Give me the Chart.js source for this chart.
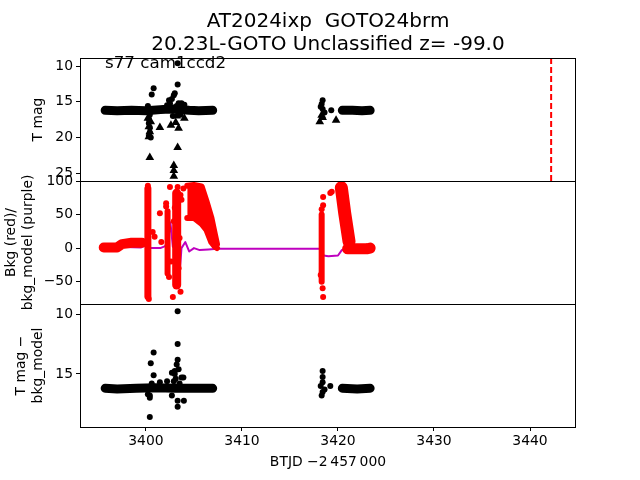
<!DOCTYPE html>
<html lang="en">
<head>
    <meta charset="UTF-8">
    <title>AT2024ixp light curve</title>
    <script src="https://cdn.jsdelivr.net/npm/chart.js"></script>
    <style>
        body { margin: 0; background: #ffffff; }
        #wrap { position: relative; width: 640px; height: 480px; }
        canvas { position: absolute; left: 0; top: 0; }
    </style>
</head>
<body>
<div id="wrap">
    <canvas id="magChart" width="640" height="480"></canvas>
    <canvas id="bkgChart" width="640" height="480"></canvas>
    <canvas id="diffChart" width="640" height="480"></canvas>
</div>
<script>
    // ---- axis ranges and ticks ----
    const xMin = 3393.13, xMax = 3444.79;
    const xTicks = [3400, 3410, 3420, 3430, 3440];
    const p1YMin = 8.88, p1YMax = 26.08;
    const p1Ticks = [10, 15, 20, 25];
    const p2YMin = -83.3, p2YMax = 100;
    const p2Ticks = [-50, 0, 50, 100];
    const p3YMin = 9.14, p3YMax = 19.44;
    const p3Ticks = [10, 15];

    // ---- panel 1: T mag ----
    const p1BandAX = [3395.75, 3397.0, 3398.5, 3400.0, 3401.5, 3402.5, 3403.5, 3404.5, 3405.5, 3406.95];
    const p1BandAY = [16.2, 16.25, 16.2, 16.25, 16.1, 16.0, 16.1, 16.2, 16.25, 16.2];
    const p1BandBX = [3420.45, 3421.5, 3422.5, 3423.35];
    const p1BandBY = [16.2, 16.2, 16.25, 16.2];
    const p1DotX = [3400.8, 3400.6, 3403.3, 3403.3, 3402.4, 3402.9, 3402.7, 3403.4, 3403.7, 3402.2, 3403.0,
                    3404.0, 3403.6, 3402.8, 3400.2, 3400.4, 3400.3, 3400.3, 3400.4, 3400.4, 3400.3, 3400.5,
                    3402.5, 3402.8, 3403.2, 3418.4, 3418.3, 3418.2, 3418.4, 3419.3, 3418.6];
    const p1DotY = [13.1, 14.0, 12.6, 9.6, 14.8, 14.1, 14.6, 15.2, 15.2, 15.5, 13.8,
                    15.4, 16.8, 17.0, 15.6, 16.8, 17.4, 18.0, 18.6, 19.3, 19.8, 20.0,
                    15.2, 15.8, 15.6, 14.8, 15.3, 15.7, 16.0, 16.2, 16.5];
    const p1TriX = [3400.2, 3400.5, 3400.3, 3400.4, 3400.3, 3401.45, 3400.4, 3403.3, 3402.9, 3402.9, 3402.9,
                    3403.1, 3402.6, 3403.4, 3404.0, 3403.2, 3418.1, 3418.4, 3419.8, 3418.3];
    const p1TriY = [17.3, 17.8, 18.5, 19.2, 19.9, 18.6, 22.8, 21.4, 23.9, 24.6, 25.4,
                    17.9, 18.3, 18.7, 17.3, 17.0, 17.8, 17.2, 17.6, 16.9];
    const peakX = 3442.2;

    // ---- panel 2: background (red) and model (purple) ----
    const p2BandAX = [3395.6, 3397.0, 3397.5, 3398.5, 3399.6];
    const p2BandAY = [1, 1, 6, 8, 8];
    const p2ColAX = [3400.2, 3400.2];
    const p2ColAY = [-72, 89];
    const p2ColBX = [3402.25, 3402.25];
    const p2ColBY = [-38, 55];
    const p2ColCX = [3403.2, 3403.2];
    const p2ColCY = [-55, 82];
    const p2BlobX = [3404.3, 3405.0, 3405.8, 3406.3, 3406.8, 3407.2, 3407.4];
    const p2BlobTop = [93, 94, 92, 70, 46, 19, 6];
    const p2BlobBot = [45, 45, 36, 27, 9, 2, 0];
    const p2ColDX = [3418.3, 3418.3];
    const p2ColDY = [-50, 50];
    const p2StripeX = [3420.35, 3420.7, 3421.15];
    const p2StripeY = [90, 52, 10];
    const p2BandBX = [3421.0, 3422.0, 3423.0, 3423.35];
    const p2BandBY = [-1, -1, -1, 0];
    const p2DotX = [3400.7, 3400.9, 3401.45, 3401.6, 3402.1, 3402.5, 3402.8, 3403.6, 3403.6, 3403.9, 3403.3,
                    3403.7, 3402.4, 3402.1, 3402.3, 3402.6, 3403.0, 3403.4, 3402.9, 3403.5, 3400.2, 3400.3,
                    3418.45, 3418.45, 3418.4, 3418.45, 3419.2, 3419.35, 3418.3, 3418.2];
    const p2DotY = [24, 17, 52, 9, 67, 91, -73, -65, 79, 89, 91,
                    72, -43, 62, 30, -20, 60, -30, 40, 15, 93, -76,
                    76, 64, -60, -73, 82, 84, 58, -40];
    const modelX = [3395.3, 3397.0, 3399.5, 3400.1, 3400.4, 3401.5, 3402.0, 3402.3, 3402.55, 3402.8, 3403.2,
                    3403.45, 3403.7, 3404.1, 3404.5, 3405.0, 3405.6, 3406.5, 3407.4, 3418.2, 3418.5, 3419.0,
                    3420.0, 3420.4, 3421.0, 3423.7];
    const modelY = [1, 2, 1, 5, 0, 0, 3, 10, 38, 2, -2,
                    -47, 0, 9, -5, 0, -3, -2, -1, -1, -11, -12,
                    -11, -3, -2, 2];

    // ---- panel 3: T mag - bkg_model ----
    const p3BandAX = [3395.75, 3397.0, 3399.0, 3401.0, 3403.0, 3405.0, 3406.95];
    const p3BandAY = [16.2, 16.25, 16.2, 16.15, 16.2, 16.2, 16.2];
    const p3BandBX = [3420.45, 3422.0, 3423.35];
    const p3BandBY = [16.2, 16.25, 16.2];
    const p3DotX = [3403.3, 3403.3, 3400.8, 3400.5, 3400.8, 3403.3, 3403.2, 3403.0, 3402.7, 3402.2, 3401.45,
                    3400.4, 3400.4, 3400.4, 3402.7, 3403.3, 3403.3, 3403.95, 3403.7, 3403.9, 3403.1, 3402.9,
                    3403.5, 3400.6, 3400.2, 3403.0, 3403.4,
                    3418.4, 3418.4, 3418.4, 3418.2, 3418.4, 3418.3, 3419.2, 3418.6];
    const p3DotY = [9.75, 12.5, 13.2, 14.1, 15.1, 13.8, 14.2, 14.75, 14.9, 15.6, 15.7,
                    17.0, 16.8, 18.6, 16.8, 17.25, 17.75, 17.25, 15.3, 15.3, 15.4, 15.6,
                    15.8, 15.8, 16.7, 15.0, 14.6,
                    14.75, 15.25, 15.7, 16.0, 16.5, 16.8, 16.0, 16.3];

    const FONT = "'DejaVu Sans', sans-serif";
    Chart.defaults.font.family = FONT;
    Chart.defaults.font.size = 13.9;
    Chart.defaults.color = '#000000';

    const pts = (xs, ys) => xs.map((x, i) => ({ x: x, y: ys[i] }));
    const fmt = v => v < 0 ? '\u2212' + Math.abs(v) : String(v);

    // thick line used for the dense runs of markers
    function band(xs, ys, color, width) {
        return {
            data: pts(xs, ys), showLine: true, pointRadius: 0,
            borderColor: color, borderWidth: width,
            borderCapStyle: 'round', borderJoinStyle: 'round'
        };
    }
    function dots(xs, ys, color, radius, style) {
        return {
            data: pts(xs, ys), showLine: false, pointStyle: style || 'circle',
            pointRadius: radius, backgroundColor: color, borderColor: color, borderWidth: 0
        };
    }

    // black box round each panel
    const framePlugin = {
        id: 'frame',
        afterDraw(chart) {
            const a = chart.chartArea, ctx = chart.ctx;
            ctx.save();
            ctx.strokeStyle = '#000000';
            ctx.lineWidth = 1;
            ctx.strokeRect(Math.round(a.left) + 0.5, Math.round(a.top) + 0.5,
                Math.round(a.right - a.left) - 1, Math.round(a.bottom - a.top));
            ctx.restore();
        }
    };

    function yAxis(min, max, reverse, ticks, title, padTop) {
        return {
            type: 'linear', min: min, max: max, reverse: reverse,
            afterFit: s => { s.width = 80; },
            afterBuildTicks: s => { s.ticks = ticks.map(v => ({ value: v })); },
            ticks: { callback: fmt, padding: 3, color: '#000' },
            grid: { drawOnChartArea: false, drawTicks: true, tickLength: 4, color: '#000' },
            border: { display: false },
            title: { display: true, text: title, color: '#000', padding: { top: padTop, bottom: 0 } }
        };
    }
    function xAxis(show) {
        const axis = {
            type: 'linear', min: xMin, max: xMax, display: show,
            afterBuildTicks: s => { s.ticks = xTicks.map(v => ({ value: v })); },
            ticks: { callback: v => String(v), padding: 2, maxRotation: 0, color: '#000' },
            grid: { drawOnChartArea: false, drawTicks: true, tickLength: 4, color: '#000' },
            border: { display: false },
            title: { display: true, text: 'BTJD \u22122\u2009457\u2009000', color: '#000', padding: { top: 0, bottom: 9 } }
        };
        if (show) axis.afterFit = s => { s.height = 53; };
        return axis;
    }
    const baseOptions = (padding) => ({
        responsive: false, animation: false,
        layout: { padding: padding },
        plugins: { legend: { display: false }, tooltip: { enabled: false } }
    });

    // panel 1
    const opt1 = baseOptions({ top: 0, bottom: 299, left: 0, right: 64 });
    opt1.plugins.title = {
        display: true, fullSize: false, color: '#000',
        text: ['AT2024ixp  GOTO24brm', '20.23L-GOTO Unclassified z= -99.0'],
        font: { size: 20, weight: 'normal', lineHeight: 1.15 },
        padding: { top: 10, bottom: 2 }
    };
    opt1.scales = { x: xAxis(false), y: yAxis(p1YMin, p1YMax, true, p1Ticks, 'T mag', 30.5) };
    const labelPlugin = {
        id: 'camLabel',
        beforeDatasetsDraw(chart) {
            const ctx = chart.ctx;
            ctx.save();
            ctx.font = '16.7px ' + FONT;
            ctx.fillStyle = '#000';
            ctx.textBaseline = 'middle';
            ctx.fillText('s77 cam1ccd2', 105, 64);
            ctx.restore();
        }
    };
    const peakLine = band([peakX, peakX], [p1YMin, p1YMax], '#ff0000', 2);
    peakLine.borderDash = [6, 3];
    peakLine.borderCapStyle = 'butt';
    new Chart(document.getElementById('magChart'), {
        type: 'scatter',
        data: {
            datasets: [
                band(p1BandAX, p1BandAY, '#000', 9),
                band(p1BandBX, p1BandBY, '#000', 9),
                dots(p1DotX, p1DotY, '#000', 3),
                dots(p1TriX, p1TriY, '#000', 5, 'triangle'),
                peakLine
            ]
        },
        options: opt1,
        plugins: [framePlugin, labelPlugin]
    });

    // panel 2
    const opt2 = baseOptions({ top: 181, bottom: 176, left: 0, right: 64 });
    opt2.scales = { x: xAxis(false), y: yAxis(p2YMin, p2YMax, false, p2Ticks, ['Bkg (red)/', 'bkg_model (purple)'], 3.5) };
    const blobTop = band(p2BlobX, p2BlobTop, '#ff0000', 6);
    const blobBot = band(p2BlobX, p2BlobBot, '#ff0000', 6);
    blobBot.fill = '-1';
    blobBot.backgroundColor = '#ff0000';
    const model = band(modelX, modelY, '#bf00bf', 2);
    new Chart(document.getElementById('bkgChart'), {
        type: 'scatter',
        data: {
            datasets: [
                band(p2BandAX, p2BandAY, '#ff0000', 10),
                band(p2ColAX, p2ColAY, '#ff0000', 7),
                band(p2ColBX, p2ColBY, '#ff0000', 6),
                band(p2ColCX, p2ColCY, '#ff0000', 9),
                blobTop, blobBot,
                band(p2ColDX, p2ColDY, '#ff0000', 6),
                band(p2StripeX, p2StripeY, '#ff0000', 13),
                band(p2BandBX, p2BandBY, '#ff0000', 11),
                dots(p2DotX, p2DotY, '#ff0000', 3),
                model
            ]
        },
        options: opt2,
        plugins: [framePlugin]
    });

    // panel 3
    const opt3 = baseOptions({ top: 304, bottom: 0, left: 0, right: 64 });
    opt3.scales = { x: xAxis(true), y: yAxis(p3YMin, p3YMax, true, p3Ticks, ['T mag \u2212', 'bkg_model'], 13.4) };
    new Chart(document.getElementById('diffChart'), {
        type: 'scatter',
        data: {
            datasets: [
                band(p3BandAX, p3BandAY, '#000', 9),
                band(p3BandBX, p3BandBY, '#000', 9),
                dots(p3DotX, p3DotY, '#000', 3)
            ]
        },
        options: opt3,
        plugins: [framePlugin]
    });
</script>
</body>
</html>
